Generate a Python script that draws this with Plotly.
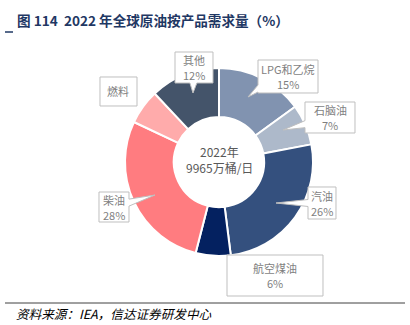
import plotly.graph_objects as go

# ---- data ----
categories = ["LPG和乙烷", "石脑油", "汽油", "航空煤油", "柴油", "燃料", "其他"]
shares = [15, 7, 26, 6, 28, 6, 12]
show_pct = [True, True, True, True, True, False, True]
center_lines = ["2022年", "9965万桶/日"]
title_text = "<b>图 114  2022 年全球原油按产品需求量（%）</b>"
source_text = "<i>资料来源：IEA，信达证券研发中心</i>"

# ---- styles ----
colors = ["#8193B0", "#ADB9CA", "#34507E", "#042160", "#FF7C80", "#FFABAB", "#44546A"]
W, H = 410, 325
FONT = "Noto Sans CJK SC"
BOX_LINE = "#BFBFBF"
TXT = "#7F7F7F"

# label boxes (x0, y0, x1, y1) and pointer tips, in pixels
boxes = [(258, 60, 318, 93), (305, 102, 355, 133), (308, 187, 336, 219),
         (227, 255, 323, 296), (99, 192, 129, 222), (100, 77, 137, 106),
         (175, 52, 213, 83)]
tips = [(248, 97), (283, 130), (276, 203), None, (155, 195), None, (193, 93)]

cx, cy, r = 219, 162, 94


def px(x):
    return x / W


def py(y):
    return 1 - y / H


def callout_path(box, tip, half=3.5):
    x0, y0, x1, y1 = box
    corners = [(x0, y0), (x1, y0), (x1, y1), (x0, y1)]
    pts = list(corners)
    if tip is not None:
        tx, ty = tip
        bx, by = (x0 + x1) / 2, (y0 + y1) / 2
        dx, dy = tx - bx, ty - by
        hw, hh = (x1 - x0) / 2, (y1 - y0) / 2
        sx = hw / abs(dx) if dx else 1e9
        sy = hh / abs(dy) if dy else 1e9
        if sx < sy:  # exits through a vertical edge
            ey = by + dy * sx
            ey = min(max(ey, y0 + half + 1), y1 - half - 1)
            if dx > 0:
                wedge = [(x1, ey - half), (tx, ty), (x1, ey + half)]
                pts = [corners[0], corners[1]] + wedge + [corners[2], corners[3]]
            else:
                wedge = [(x0, ey + half), (tx, ty), (x0, ey - half)]
                pts = corners + wedge
        else:  # horizontal edge
            ex = bx + dx * sy
            ex = min(max(ex, x0 + half + 1), x1 - half - 1)
            if dy > 0:
                wedge = [(ex + half, y1), (tx, ty), (ex - half, y1)]
                pts = [corners[0], corners[1], corners[2]] + wedge + [corners[3]]
            else:
                wedge = [(ex - half, y0), (tx, ty), (ex + half, y0)]
                pts = [corners[0]] + wedge + [corners[1], corners[2], corners[3]]
    d = "M " + " L ".join("{:.5f} {:.5f}".format(px(x), py(y)) for x, y in pts) + " Z"
    return d


fig = go.Figure(go.Pie(
    labels=categories,
    values=shares,
    sort=False,
    direction="clockwise",
    rotation=0,
    hole=0.48,
    marker=dict(colors=colors, line=dict(color="white", width=2)),
    textinfo="none",
    hoverinfo="label+percent",
    domain=dict(x=[px(cx - r), px(cx + r)], y=[py(cy + r), py(cy - r)]),
    showlegend=False,
))

annotations = []
shapes = []
for name, val, sp, box, tip in zip(categories, shares, show_pct, boxes, tips):
    shapes.append(dict(type="path", xref="paper", yref="paper", path=callout_path(box, tip),
                       fillcolor="white", line=dict(color=BOX_LINE, width=1), layer="above"))
    bx, by = (box[0] + box[2]) / 2, (box[1] + box[3]) / 2
    lines = [name, "{}%".format(val)] if sp else [name]
    offs = [-7.5, 7.5] if sp else [0]
    for t, o in zip(lines, offs):
        annotations.append(dict(x=px(bx), y=py(by + o), xref="paper", yref="paper",
                                showarrow=False, xanchor="center", yanchor="middle", text=t,
                                font=dict(family=FONT, size=11, color=TXT)))

for t, yy in zip(center_lines, [152, 167]):
    annotations.append(dict(x=px(cx), y=py(yy), xref="paper", yref="paper", showarrow=False,
                            text=t, font=dict(family=FONT, size=12, color="#595959"),
                            xanchor="center", yanchor="middle"))
annotations.append(dict(x=px(15), y=py(20), xref="paper", yref="paper", showarrow=False,
                        text=title_text, font=dict(family=FONT, size=13.6, color="#1F3864"),
                        xanchor="left", yanchor="middle"))
annotations.append(dict(x=px(14), y=py(313), xref="paper", yref="paper", showarrow=False,
                        text=source_text, font=dict(family=FONT, size=12.6, color="#000000"),
                        xanchor="left", yanchor="middle"))

shapes += [
    dict(type="line", xref="paper", yref="paper", x0=px(5), x1=px(13), y0=py(32), y1=py(32),
         line=dict(color="#1F3864", width=1.5)),
    dict(type="line", xref="paper", yref="paper", x0=px(5), x1=px(405), y0=py(303), y1=py(303),
         line=dict(color="#404040", width=1)),
]

fig.update_layout(
    width=W, height=H,
    margin=dict(l=0, r=0, t=0, b=0),
    paper_bgcolor="white", plot_bgcolor="white",
    annotations=annotations, shapes=shapes,
    font=dict(family=FONT),
)

fig.write_html("out.html", config={"displayModeBar": False})
